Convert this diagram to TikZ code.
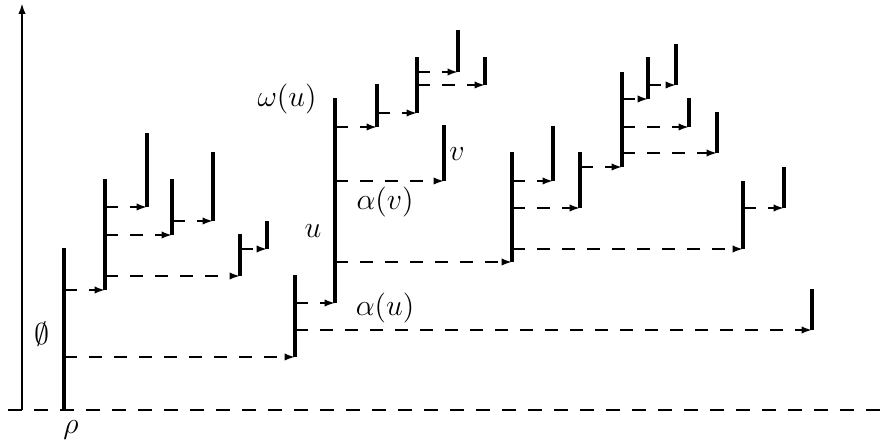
\documentclass[tikz,border=0pt]{standalone}
\usetikzlibrary{arrows.meta}

\begin{document}
\begin{tikzpicture}[
  x=0.4pt,y=-0.4pt,
  font=\fontsize{11.5}{13}\selectfont,
  life/.style={line width=1.3pt},
  offspring/.style={line width=1pt,dash pattern=on 5pt off 5pt,-{Latex[length=4.2pt,width=3pt]}},
  axis/.style={line width=1pt,-{Latex[length=4.4pt,width=3pt]}},
  ground/.style={line width=1pt,dash pattern=on 5.4pt off 5pt}
]
  \useasboundingbox (0,0) rectangle (881,445);
  % time axis and ground line
  \coordinate (o) at (22,410);
  \coordinate (t) at (22,3);
  \coordinate (gl) at (8,410);
  \coordinate (gr) at (881,410);
  \draw[axis] (o) -- (t);
  \draw[ground] (gl) -- (gr);
  % individuals: name/x/birth/death
  \foreach \n/\x/\b/\d in {rho/64/410/248, a/105/290/179, a1/147/207/133,
      a2/172/235/179, a21/213/221/152, a3/240/276/234, a31/267/249/221,
      b/295/357/275, u/335/303/98, bu/812/330/289, u1/377/127/84,
      u11/417/113/57, u111/458/72/30, u112/485/85/57, v/444/181/125,
      c/512/262/152, c1/553/181/126, c2/580/208/152, c21/622/167/72,
      c211/648/99/57, c2111/676/85/44, c212/689/127/98, c213/717/153/112,
      c3/743/249/181, c31/784/208/167} {
    \coordinate (\n-b) at (\x,\b);
    \coordinate (\n-d) at (\x,\d);
    \draw[life] (\n-b) -- (\n-d);
  }
  % births: parent/child
  \foreach \p/\c in {rho/a, rho/b, a/a1, a/a2, a2/a21, a/a3, a3/a31,
      b/u, b/bu, u/u1, u1/u11, u11/u111, u11/u112, u/v, u/c,
      c/c1, c/c2, c2/c21, c21/c211, c211/c2111, c21/c212, c21/c213,
      c/c3, c3/c31}
    \draw[offspring] (\p-b |- \c-b) -- (\c-b);
  % labels
  \node (rholab) at (71,430) {$\rho$};
  \node (emptylab) at (42,334) {$\emptyset$};
  \node (ulab) at (313,231) {$u$};
  \node (omegalab) at (287,99) {$\omega(u)$};
  \node (vlab) at (457,154) {$v$};
  \node (alphav) at (385,202) {$\alpha(v)$};
  \node (alphau) at (385,308) {$\alpha(u)$};
\end{tikzpicture}
\end{document}
